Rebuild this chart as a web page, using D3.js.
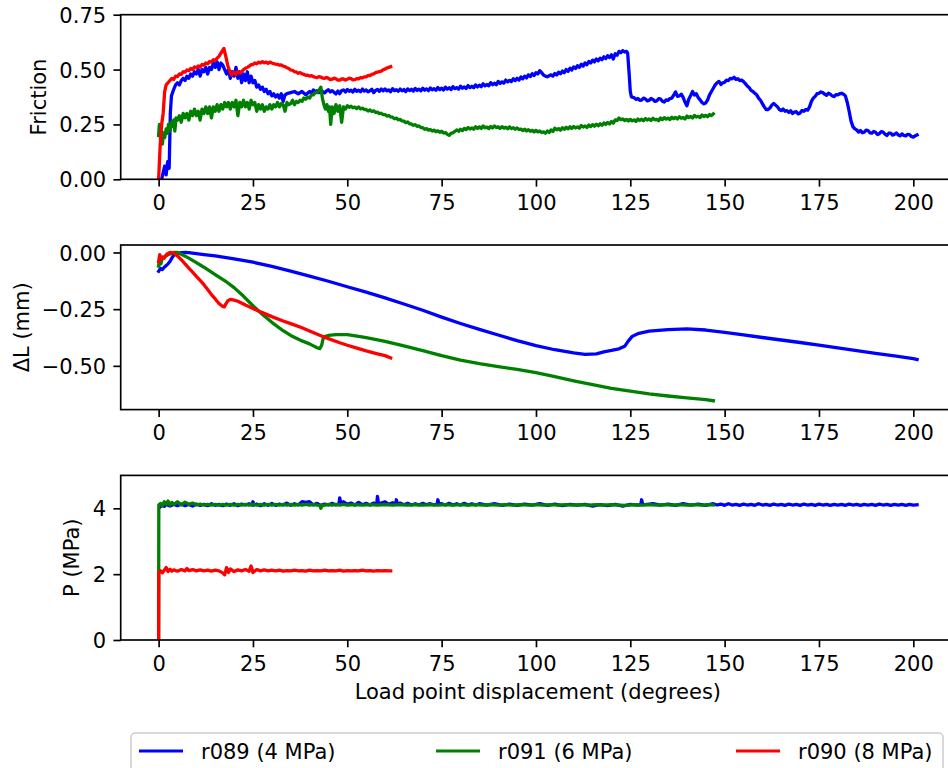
<!DOCTYPE html>
<html>
<head>
<meta charset="utf-8">
<script src="https://cdn.jsdelivr.net/npm/d3@7"></script>
<style>
  html, body { margin: 0; padding: 0; background: #fff; }
  svg { display: block; font-family: "DejaVu Sans", sans-serif; }
</style>
</head>
<body>
<svg id="chart" width="948" height="768"></svg>
<script>
// Series labels and colours
const seriesNames = ["r089 (4 MPa)", "r091 (6 MPa)", "r090 (8 MPa)"];
const seriesColors = ["#0000ff", "#008000", "#ff0000"];

// Axis labels and ticks
const xLabel = "Load point displacement (degrees)";
const xTicks = [0, 25, 50, 75, 100, 125, 150, 175, 200];
const frictionTicks = [0, 0.25, 0.5, 0.75];
const dlTicks = [0, -0.25, -0.5];
const pTicks = [0, 2, 4];

// Friction, r089: start-up [degrees, friction]
const r089FrictionHead = [
  [0.8,0.0],[1.2,0.03],[1.6,0.06],[2.0,0.02],[2.4,0.08],[2.8,0.05],[3.1,0.30],[3.4,0.38],[4,0.41],[4.5,0.43],
  [5,0.44],[5.5,0.43],[6,0.45],[6.5,0.46],[7,0.45],[7.5,0.47],[8,0.46],[8.5,0.48],[9,0.47],[9.5,0.49],
  [10,0.48],[10.5,0.50],[11,0.47],[11.5,0.50],[12,0.49],[12.5,0.51],[13,0.48],[13.5,0.51],[14,0.50],[14.5,0.53],
  [15,0.51],[15.5,0.535],[16,0.50],[16.5,0.53],[17,0.52],[17.5,0.50],[18,0.48],[18.5,0.50],[19,0.46],[19.5,0.49],
  [20,0.47],[20.5,0.51],[21,0.46],[21.5,0.49],[22,0.44],[22.5,0.48],[23,0.45],[23.5,0.49],[24,0.44],[24.5,0.47],
  [25,0.44],[25.5,0.45],[26,0.42],[26.5,0.43],[27,0.41],[27.5,0.42],[28,0.40],[28.5,0.41],[29,0.39],[29.5,0.40],
  [30,0.38],[30.5,0.39],[31,0.375],[31.5,0.385],[32,0.37],[32.5,0.39],[33,0.355],[33.5,0.385],[34,0.39],[35,0.395],
  [36,0.40],[37,0.39],[38,0.40],[39,0.385]
];
// Friction, r089: 40 to 124 degrees, sampled every half degree
const r089FrictionMidStart = 40, r089FrictionMidStep = 0.5;
const r089FrictionMid = [
  .400,.392,.407,.398,.404,.395,.406,.399, .394,.403,.408,.398,.404,.396,.389,.402,
  .390,.404,.407,.398,.409,.401,.406,.398, .410,.401,.406,.399,.411,.402,.407,.399,
  .403,.410,.395,.405,.409,.401,.411,.403, .412,.403,.407,.399,.413,.404,.408,.401,
  .411,.403,.409,.400,.412,.404,.410,.402, .414,.405,.411,.403,.415,.406,.412,.404,
  .416,.408,.413,.406,.418,.409,.415,.407, .420,.411,.417,.409,.422,.413,.418,.411,
  .424,.415,.421,.414,.427,.418,.424,.417, .430,.421,.429,.422,.435,.426,.432,.426,
  .440,.431,.438,.431,.446,.437,.444,.438, .452,.444,.451,.445,.458,.450,.460,.452,
  .466,.458,.470,.462,.476,.468,.481,.473, .486,.480,.495,.486,.475,.470,.467,.472,
  .476,.470,.482,.475,.488,.481,.493,.486, .500,.492,.506,.498,.512,.505,.518,.510,
  .524,.516,.530,.522,.537,.530,.543,.535, .548,.540,.552,.545,.558,.550,.563,.555,
  .567,.548,.572,.565,.583,.577,.586,.580, .583
];
// Friction, r089: after the large drop [degrees, friction]
const r089FrictionTail = [
  [124.3,0.575],[124.7,0.480],[125.0,0.400],[125.3,0.375],[126,0.372],[126.5,0.364],[127,0.368],[127.5,0.360],[128,0.361],[128.5,0.370],
  [129,0.366],[129.5,0.357],[130,0.360],[130.5,0.368],[131,0.364],[131.5,0.355],[132,0.357],[132.5,0.367],[133,0.366],[133.5,0.356],
  [134,0.352],[134.5,0.362],[135,0.360],[135.5,0.368],[136,0.370],[136.5,0.384],[137,0.398],[137.5,0.378],[138,0.380],[138.5,0.388],
  [139,0.373],[139.5,0.352],[140,0.335],[140.5,0.365],[141,0.382],[141.5,0.400],[142,0.384],[142.5,0.390],[143,0.372],[143.5,0.362],
  [144,0.350],[144.5,0.344],[145,0.348],[145.5,0.362],[146,0.385],[146.5,0.400],[147,0.415],[147.5,0.430],[148,0.440],[148.5,0.446],
  [149,0.432],[149.5,0.440],[150,0.442],[150.5,0.452],[151,0.450],[151.5,0.460],[152,0.458],[152.5,0.465],[153,0.455],[153.5,0.458],
  [154,0.450],[154.5,0.452],[155,0.445],[155.5,0.436],[156,0.425],[156.5,0.418],[157,0.405],[157.5,0.400],[158,0.392],[158.5,0.385],
  [159,0.370],[159.5,0.360],[160,0.345],[160.5,0.330],[161,0.318],[161.5,0.318],[162,0.325],[162.5,0.338],[163,0.346],[163.5,0.338],
  [164,0.330],[164.5,0.318],[165,0.313],[165.5,0.320],[166,0.310],[166.5,0.313],[167,0.305],[167.5,0.312],[168,0.300],[168.5,0.306],
  [169,0.308],[169.5,0.298],[170,0.302],[170.5,0.314],[171,0.310],[171.5,0.318],[172,0.315],[172.5,0.330],[173,0.355],[173.5,0.370],
  [174,0.378],[174.5,0.390],[175,0.392],[175.5,0.398],[176,0.395],[176.5,0.388],[177,0.383],[177.5,0.392],[178,0.388],[178.5,0.380],
  [179,0.377],[179.5,0.386],[180,0.385],[180.5,0.390],[181,0.392],[181.5,0.388],[182,0.380],[182.5,0.350],[183,0.310],[183.5,0.265],
  [184,0.240],[184.5,0.230],[185,0.225],[185.5,0.215],[186,0.222],[186.5,0.212],[187,0.215],[187.5,0.224],[188,0.222],[188.5,0.212],
  [189,0.210],[189.5,0.218],[190,0.214],[190.5,0.204],[191,0.208],[191.5,0.217],[192,0.215],[192.5,0.206],[193,0.200],[193.5,0.210],
  [194,0.210],[194.5,0.201],[195,0.205],[195.5,0.211],[196,0.202],[196.5,0.198],[197,0.207],[197.5,0.200],[198,0.198],[198.5,0.205],
  [199,0.204],[199.5,0.195],[200,0.192],[200.5,0.198],[201,0.202]
];

// Friction, r091: start-up and first stick-slip [degrees, friction]
const r091FrictionHead = [
  [0,0.20],[0.2,0.25],[0.5,0.18],[0.8,0.22],[1.0,0.16],[1.3,0.21],[1.6,0.19],[2,0.23],[2.3,0.21],[2.6,0.25],
  [3,0.22],[3.3,0.26],[3.6,0.24],[4,0.27],[4.3,0.22],[4.6,0.28],[5,0.27],[5.5,0.29],[6,0.26],[6.5,0.30],
  [7,0.28],[7.5,0.30],[8,0.27],[8.5,0.31],[9,0.29],[9.5,0.32],[10,0.29],[10.5,0.31],[11,0.27],[11.5,0.32],
  [12,0.30],[12.5,0.33],[13,0.30],[13.5,0.33],[14,0.28],[14.5,0.33],[15,0.31],[15.5,0.34],[16,0.31],[16.5,0.34],
  [17,0.32],[17.5,0.35],[18,0.33],[18.5,0.35],[19,0.32],[19.5,0.35],[20,0.33],[20.5,0.36],[21,0.29],[21.5,0.35],
  [22,0.33],[22.5,0.36],[23,0.33],[23.5,0.35],[24,0.32],[24.5,0.36],[25,0.34],[25.5,0.35],[26,0.31],[26.5,0.34],
  [27,0.32],[27.5,0.34],[28,0.31],[28.5,0.33],[29,0.32],[29.5,0.34],[30,0.32],[30.5,0.34],[31,0.33],[31.5,0.35],
  [32,0.33],[32.5,0.345],[33,0.34],[33.5,0.31],[34,0.35],[34.5,0.34],[35,0.345],[35.5,0.36],[36,0.34],[36.5,0.355],
  [37,0.35],[37.5,0.36],[38,0.355],[38.5,0.37],[39,0.365],[39.5,0.375],[40,0.37],[40.5,0.385],[41,0.385],[41.5,0.395],
  [42,0.395],[42.5,0.405],[43,0.42],[43.4,0.37],[43.8,0.34],[44.2,0.32],[44.6,0.34],[45,0.31],[45.3,0.33],[45.6,0.25],
  [46,0.33],[46.5,0.30],[47,0.34],[47.5,0.31],[48,0.335],[48.5,0.26],[49,0.33],[49.5,0.32]
];
// Friction, r091: 50 to 147 degrees, sampled every half degree
const r091FrictionTailStart = 50, r091FrictionTailStep = 0.5;
const r091FrictionTail = [
  .335,.328,.333,.326,.329,.322,.330,.321,.324,.318, .318,.311,.316,.309,.312,.305,.306,.299,.301,.295,
  .295,.288,.291,.284,.283,.276,.279,.271,.273,.266, .265,.258,.261,.253,.252,.246,.249,.241,.243,.236,
  .235,.228,.231,.224,.227,.220,.224,.217,.221,.214, .219,.211,.213,.205,.200,.209,.212,.218,.225,.219,
  .228,.222,.232,.226,.236,.229,.234,.228,.239,.232, .239,.232,.243,.235,.238,.231,.241,.234,.243,.236,
  .239,.232,.240,.233,.237,.230,.239,.231,.235,.228, .234,.227,.229,.222,.228,.220,.226,.219,.223,.216,
  .223,.216,.220,.213,.216,.210,.220,.213,.225,.218, .233,.226,.231,.224,.235,.228,.237,.230,.239,.232,
  .241,.234,.239,.233,.245,.238,.243,.236,.247,.240, .249,.242,.251,.244,.253,.246,.257,.250,.259,.252,
  .263,.256,.271,.268,.279,.272,.275,.268,.273,.266, .273,.266,.271,.264,.275,.268,.274,.267,.277,.270,
  .275,.268,.278,.271,.273,.267,.279,.272,.281,.274, .279,.272,.283,.276,.282,.275,.285,.278,.281,.275,
  .288,.281,.286,.279,.291,.284,.287,.281,.293,.286, .291,.285,.295,.290,.298
];

// Friction, r090 [degrees, friction]
const r090Friction = [
  [0,0.0],[0.4,0.15],[0.8,0.25],[1.2,0.30],[1.6,0.40],[2,0.43],[2.5,0.44],[3,0.45],[3.5,0.46],[4,0.455],
  [4.5,0.47],[5,0.468],[5.5,0.480],[6,0.478],[6.5,0.490],[7,0.488],[7.5,0.498],[8,0.495],[8.5,0.505],[9,0.50],
  [9.5,0.512],[10,0.508],[10.5,0.517],[11,0.512],[11.5,0.523],[12,0.520],[12.5,0.530],[13,0.526],[13.5,0.537],[14,0.534],
  [14.5,0.545],[15,0.542],[15.5,0.552],[16,0.560],[16.5,0.575],[17,0.588],[17.3,0.596],[17.8,0.560],[18.3,0.520],[18.8,0.495],
  [19.3,0.475],[20,0.488],[20.5,0.478],[21,0.492],[21.5,0.484],[22,0.490],[22.5,0.500],[23,0.506],[23.5,0.510],[24,0.515],
  [24.5,0.522],[25,0.523],[25.5,0.530],[26,0.526],[26.5,0.534],[27,0.530],[27.5,0.536],[28,0.531],[28.5,0.534],[29,0.528],
  [29.5,0.534],[30,0.530],[30.5,0.527],[31,0.525],[31.5,0.524],[32,0.520],[32.5,0.521],[33,0.516],[33.5,0.514],[34,0.508],
  [34.5,0.505],[35,0.498],[35.5,0.496],[36,0.490],[36.5,0.489],[37,0.483],[37.5,0.486],[38,0.481],[38.5,0.478],[39,0.474],
  [39.5,0.475],[40,0.470],[40.5,0.472],[41,0.468],[41.5,0.465],[42,0.463],[42.5,0.468],[43,0.466],[43.5,0.461],[44,0.460],
  [44.5,0.464],[45,0.460],[45.5,0.454],[46,0.456],[46.5,0.461],[47,0.458],[47.5,0.452],[48,0.452],[48.5,0.458],[49,0.457],
  [49.5,0.452],[50,0.456],[50.5,0.461],[51,0.459],[51.5,0.453],[52,0.454],[52.5,0.459],[53,0.458],[53.5,0.463],[54,0.462],
  [54.5,0.467],[55,0.467],[55.5,0.473],[56,0.472],[56.5,0.478],[57,0.480],[57.5,0.486],[58,0.488],[58.5,0.491],[59,0.493],
  [59.5,0.499],[60,0.502],[60.5,0.507],[61,0.510],[61.5,0.513]
];

// Change in layer thickness ΔL (mm) [degrees, mm]
const r089DeltaL = [
  [0,-0.083],[0.5,-0.07],[1,-0.075],[1.5,-0.065],[2,-0.058],[2.5,-0.05],[3,-0.04],[3.5,-0.025],[4,-0.012],[5,-0.004],
  [6,-0.001],[7,0.0],[8,-0.001],[10,-0.005],[12,-0.009],[15,-0.015],[20,-0.028],[25,-0.043],[30,-0.061],[35,-0.082],
  [40,-0.104],[45,-0.127],[50,-0.151],[55,-0.175],[60,-0.2],[65,-0.227],[70,-0.255],[75,-0.285],[80,-0.313],[85,-0.339],
  [90,-0.364],[95,-0.389],[100,-0.411],[105,-0.429],[110,-0.443],[113,-0.449],[116,-0.447],[118,-0.438],[120,-0.432],[122,-0.425],
  [123.5,-0.414],[124.5,-0.39],[125.5,-0.37],[127,-0.358],[130,-0.347],[135,-0.34],[140,-0.337],[145,-0.342],[150,-0.352],[155,-0.363],
  [160,-0.375],[165,-0.386],[170,-0.397],[175,-0.409],[180,-0.421],[185,-0.433],[190,-0.445],[195,-0.456],[200,-0.468],[201,-0.472]
];
const r091DeltaL = [
  [0,-0.06],[0.3,-0.03],[0.6,-0.05],[1,-0.025],[2,-0.015],[3,-0.006],[4,0.0],[5,0.0],[6,-0.008],[8,-0.025],
  [10,-0.045],[12,-0.065],[15,-0.098],[18,-0.13],[20,-0.155],[22,-0.185],[25,-0.235],[28,-0.28],[30,-0.308],[33,-0.345],
  [35,-0.366],[38,-0.39],[40,-0.403],[42,-0.42],[42.7,-0.424],[43.2,-0.41],[43.6,-0.38],[44.2,-0.37],[45,-0.366],[47,-0.362],
  [50,-0.362],[53,-0.37],[55,-0.376],[60,-0.392],[65,-0.412],[70,-0.433],[75,-0.455],[80,-0.475],[85,-0.49],[90,-0.503],
  [95,-0.516],[100,-0.53],[105,-0.548],[110,-0.566],[115,-0.583],[120,-0.599],[125,-0.612],[130,-0.624],[135,-0.633],[140,-0.641],
  [145,-0.649],[147,-0.654]
];
const r090DeltaL = [
  [0,-0.04],[0.3,-0.01],[0.6,-0.03],[1,-0.02],[1.5,-0.025],[2,-0.01],[2.5,-0.004],[3,0.0],[4,-0.002],[5,-0.015],
  [6,-0.032],[7,-0.05],[8,-0.069],[9,-0.087],[10,-0.105],[11,-0.123],[12,-0.142],[13,-0.163],[14,-0.186],[15,-0.205],
  [16,-0.225],[17,-0.238],[17.4,-0.24],[17.8,-0.228],[18.3,-0.214],[19,-0.207],[20,-0.21],[21,-0.215],[23,-0.232],[25,-0.247],
  [27,-0.262],[30,-0.283],[33,-0.302],[35,-0.314],[38,-0.332],[40,-0.346],[43,-0.367],[45,-0.38],[48,-0.398],[50,-0.409],
  [53,-0.424],[55,-0.434],[58,-0.447],[60,-0.455],[61.5,-0.465]
];

// Pore pressure P (MPa) [degrees, MPa]
const r089Pressure = [
  [0.5,4.05],[1,4.1],[1.5,4.06],[2,4.12],[3,4.07],[4,4.12],[5,4.08],[6,4.13],[7,4.08],[8,4.12],
  [9,4.07],[10,4.13],[11,4.09],[12,4.12],[13,4.08],[14,4.14],[15,4.09],[16,4.12],[17,4.08],[18,4.13],
  [19,4.09],[20,4.14],[21,4.08],[22,4.13],[23,4.1],[24,4.14],[24.8,4.1],[25,4.2],[25.2,4.1],[26,4.13],
  [27,4.08],[28,4.14],[29,4.09],[30,4.15],[31,4.09],[32,4.13],[33,4.1],[34,4.16],[35,4.09],[36,4.14],
  [37,4.1],[38,4.2],[39,4.18],[40,4.2],[41,4.1],[42,4.15],[43,4.09],[44,4.13],[45,4.1],[46,4.15],
  [47,4.1],[47.8,4.14],[48,4.32],[48.3,4.12],[49,4.2],[50,4.12],[51,4.16],[52,4.1],[53,4.18],[54,4.11],
  [55,4.15],[56,4.1],[57,4.16],[57.8,4.12],[58,4.36],[58.3,4.12],[59,4.16],[60,4.2],[61,4.12],[62,4.17],
  [62.8,4.12],[63,4.26],[63.3,4.12],[64,4.16],[65,4.11],[66,4.15],[67,4.1],[68,4.14],[69,4.1],[70,4.15],
  [71,4.11],[72,4.14],[73,4.1],[73.8,4.13],[74,4.26],[74.3,4.12],[75,4.14],[76,4.1],[77,4.15],[78,4.1],
  [79,4.14],[80,4.1],[81,4.15],[82,4.1],[83,4.14],[84,4.1],[85,4.14],[87,4.1],[89,4.14],[91,4.09],
  [93,4.13],[95,4.09],[97,4.13],[99,4.1],[101,4.14],[103,4.09],[105,4.13],[107,4.08],[109,4.12],[111,4.1],
  [113,4.12],[115,4.07],[117,4.11],[119,4.08],[121,4.12],[123,4.07],[125,4.12],[127,4.1],[127.8,4.12],[128,4.26],
  [128.3,4.11],[129,4.11],[131,4.14],[133,4.1],[135,4.13],[137,4.09],[139,4.14],[141,4.1],[143,4.13],[145,4.09],
  [147,4.14],[148,4.1],[149,4.13],[150,4.09],[151,4.14],[152,4.1],[153,4.12],[154,4.09],[155,4.13],[156,4.1],
  [157,4.12],[158,4.09],[159,4.14],[160,4.1],[161,4.12],[162,4.09],[163,4.13],[164,4.1],[165,4.12],[166,4.09],
  [167,4.13],[168,4.1],[169,4.12],[170,4.09],[171,4.13],[172,4.1],[173,4.12],[174,4.09],[175,4.13],[176,4.1],
  [177,4.12],[178,4.09],[179,4.12],[180,4.1],[181,4.12],[182,4.09],[183,4.13],[184,4.1],[185,4.12],[186,4.09],
  [187,4.12],[188,4.1],[189,4.12],[190,4.09],[191,4.13],[192,4.1],[193,4.12],[194,4.09],[195,4.12],[196,4.1],
  [197,4.12],[198,4.09],[199,4.12],[200,4.1],[201,4.11]
];
const r091Pressure = [
  [0,0],[0.05,4.1],[0.5,4.15],[1,4.08],[1.5,4.2],[2,4.12],[2.5,4.22],[3,4.1],[3.5,4.18],[4,4.12],
  [5,4.2],[6,4.1],[7,4.19],[8,4.12],[9,4.16],[10,4.1],[11,4.13],[12,4.1],[13,4.12],[14,4.1],
  [15,4.12],[16,4.1],[17,4.12],[18,4.1],[19,4.12],[20,4.1],[21,4.12],[22,4.1],[23,4.12],[24,4.1],
  [25,4.12],[26,4.1],[27,4.12],[28,4.1],[29,4.12],[30,4.1],[31,4.12],[32,4.1],[33,4.12],[34,4.1],
  [35,4.12],[36,4.1],[37,4.12],[38,4.1],[39,4.12],[40,4.1],[41,4.12],[42,4.1],[42.7,4.09],[43,4.0],
  [43.3,4.08],[44,4.1],[45,4.12],[46,4.1],[47,4.12],[48,4.1],[49,4.12],[50,4.1],[52,4.11],[54,4.1],
  [56,4.11],[58,4.1],[60,4.11],[62,4.1],[64,4.11],[66,4.1],[68,4.11],[70,4.1],[72,4.11],[74,4.1],
  [76,4.11],[78,4.1],[80,4.11],[82,4.1],[84,4.11],[86,4.1],[88,4.11],[90,4.1],[92,4.11],[94,4.1],
  [96,4.11],[98,4.1],[100,4.11],[102,4.1],[104,4.11],[106,4.1],[108,4.11],[110,4.1],[112,4.11],[114,4.1],
  [116,4.11],[118,4.1],[120,4.11],[122,4.1],[124,4.09],[126,4.11],[128,4.1],[130,4.11],[132,4.1],[134,4.11],
  [136,4.1],[138,4.11],[140,4.1],[142,4.11],[144,4.1],[146,4.11],[147,4.1]
];
const r090Pressure = [
  [0,0],[0.05,2.05],[0.5,2.1],[1,2.04],[1.5,2.12],[2,2.2],[2.5,2.08],[3,2.15],[3.5,2.09],[4,2.13],
  [5,2.09],[6,2.14],[7,2.1],[7.5,2.17],[8,2.11],[9,2.14],[10,2.1],[11,2.13],[12,2.1],[13,2.12],
  [14,2.09],[15,2.12],[16,2.1],[17,2.04],[17.5,1.98],[18,2.2],[18.5,2.05],[19,2.16],[20,2.08],[21,2.13],
  [22,2.1],[23,2.14],[24,2.09],[24.5,2.25],[25,2.05],[26,2.14],[27,2.1],[28,2.13],[29,2.1],[30,2.12],
  [31,2.1],[32,2.12],[33,2.09],[34,2.11],[35,2.1],[36,2.12],[37,2.1],[38,2.11],[39,2.09],[40,2.12],
  [41,2.1],[42,2.11],[43,2.1],[44,2.12],[45,2.1],[46,2.11],[47,2.1],[48,2.12],[49,2.09],[50,2.11],
  [51,2.1],[52,2.11],[53,2.1],[54,2.12],[55,2.1],[56,2.11],[57,2.09],[58,2.11],[59,2.1],[60,2.11],
  [61,2.1],[61.5,2.1]
];

// Assemble the full friction records from their pieces
const r089Friction = r089FrictionHead
  .concat(r089FrictionMid.map((v, i) => [r089FrictionMidStart + i * r089FrictionMidStep, v]))
  .concat(r089FrictionTail);
const r091Friction = r091FrictionHead
  .concat(r091FrictionTail.map((v, i) => [r091FrictionTailStart + i * r091FrictionTailStep, v]));

// ---- layout ----
const FONT = 21;
const left = 120.7, right = 955;
const tickLen = 7.3, tickPad = 7.3;
const panelH = 164.6;
const panels = [
  { top: 14.7, domain: [0, 0.75], ticks: frictionTicks, fmt: d3.format(".2f"),
    label: "Friction", labelX: 46, series: [r089Friction, r091Friction, r090Friction] },
  { top: 245.0, domain: [-0.693, 0.033], ticks: dlTicks, fmt: d3.format(".2f"),
    label: "ΔL (mm)", labelX: 28.5, series: [r089DeltaL, r091DeltaL, r090DeltaL] },
  { top: 475.4, domain: [0, 5], ticks: pTicks, fmt: d3.format("d"),
    label: "P (MPa)", labelX: 79, series: [r089Pressure, r091Pressure, r090Pressure] }
];

const svg = d3.select("#chart");
const x = d3.scaleLinear().domain([-10.05, 211.05]).range([left, right]);

panels.forEach((p, i) => {
  const bottom = p.top + panelH;
  const y = d3.scaleLinear().domain(p.domain).range([bottom, p.top]);
  const g = svg.append("g");

  const clipId = "clip" + i;
  svg.append("clipPath").attr("id", clipId)
    .append("rect").attr("x", left).attr("y", p.top)
    .attr("width", right - left).attr("height", panelH);

  const line = d3.line().x(d => x(d[0])).y(d => y(d[1]));
  g.append("g").attr("clip-path", `url(#${clipId})`)
    .selectAll("path").data(p.series).join("path")
    .attr("d", line)
    .attr("fill", "none")
    .attr("stroke", (d, k) => seriesColors[k])
    .attr("stroke-width", 3.3)
    .attr("stroke-linejoin", "round")
    .attr("stroke-linecap", "square");

  // spines
  g.append("rect")
    .attr("x", left).attr("y", p.top)
    .attr("width", right - left).attr("height", panelH)
    .attr("fill", "none").attr("stroke", "#000").attr("stroke-width", 1.67);

  // x axis
  const xAxis = d3.axisBottom(x).tickValues(xTicks).tickSize(tickLen).tickPadding(8.3)
    .tickFormat(d3.format("d"));
  const gx = g.append("g").attr("transform", `translate(0,${bottom})`).call(xAxis);
  gx.select(".domain").remove();
  gx.selectAll(".tick line").attr("stroke", "#000").attr("stroke-width", 1.67);
  gx.selectAll(".tick text").attr("font-size", FONT).attr("fill", "#000")
    .attr("font-family", "DejaVu Sans");

  // y axis
  const yAxis = d3.axisLeft(y).tickValues(p.ticks).tickSize(tickLen).tickPadding(tickPad)
    .tickFormat(p.fmt);
  const gy = g.append("g").attr("transform", `translate(${left},0)`).call(yAxis);
  gy.select(".domain").remove();
  gy.selectAll(".tick line").attr("stroke", "#000").attr("stroke-width", 1.67);
  gy.selectAll(".tick text").attr("font-size", FONT).attr("fill", "#000")
    .attr("font-family", "DejaVu Sans").attr("dy", "0.36em");

  // y label
  g.append("text")
    .attr("transform", `translate(${p.labelX},${p.top + panelH / 2}) rotate(-90)`)
    .attr("text-anchor", "middle")
    .attr("font-size", FONT).attr("fill", "#000")
    .text(p.label);
});

// x label
svg.append("text")
  .attr("x", (left + right) / 2).attr("y", 699)
  .attr("text-anchor", "middle")
  .attr("font-size", FONT).attr("fill", "#000")
  .text(xLabel);

// legend
const leg = svg.append("g");
leg.append("rect")
  .attr("x", 131).attr("y", 733).attr("width", 812).attr("height", 60)
  .attr("rx", 4.2).attr("ry", 4.2)
  .attr("fill", "#fff").attr("fill-opacity", 0.8)
  .attr("stroke", "#cccccc").attr("stroke-width", 1.5);
const colX = [139, 436, 736];
const items = leg.selectAll("g.item").data(seriesNames).join("g")
  .attr("class", "item")
  .attr("transform", (d, i) => `translate(${colX[i]},751)`);
items.append("line")
  .attr("x1", 0).attr("x2", 44).attr("y1", 0).attr("y2", 0)
  .attr("stroke", (d, i) => seriesColors[i]).attr("stroke-width", 3.1);
items.append("text")
  .attr("x", 62).attr("y", 7.6)
  .attr("font-size", FONT).attr("fill", "#000")
  .text(d => d);
</script>
</body>
</html>
